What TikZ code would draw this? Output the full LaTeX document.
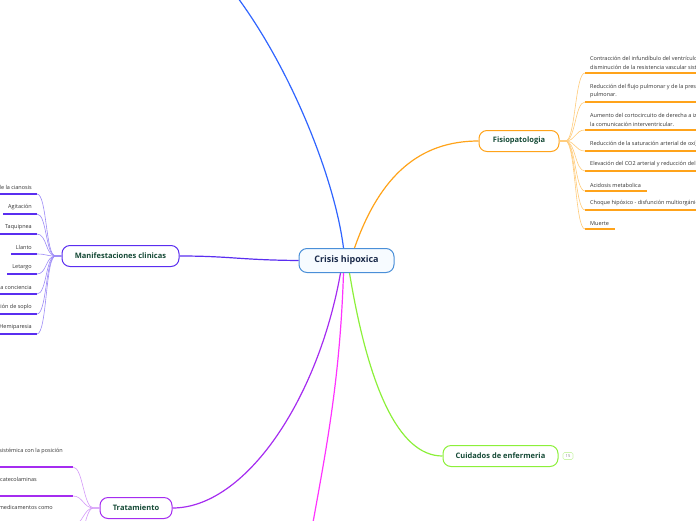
\documentclass[tikz,border=0pt]{standalone}
\usepackage{fontspec}
\setmainfont{Open Sans}
\usetikzlibrary{positioning}

\definecolor{centreline}{HTML}{4A8FD8}
\definecolor{centrefill}{HTML}{F7FBFF}
\definecolor{centretext}{HTML}{1B2B4B}
\definecolor{topictext}{HTML}{154A36}
\definecolor{leaftext}{HTML}{333333}
\definecolor{bluebranch}{HTML}{2F64FF}
\definecolor{fisiocol}{HTML}{FFA31A}
\definecolor{fisiolight}{HTML}{FFCB7A}
\definecolor{manifcol}{HTML}{5A2EF0}
\definecolor{maniflight}{HTML}{9C8AF6}
\definecolor{tratcol}{HTML}{A52CF0}
\definecolor{tratlight}{HTML}{D49AF8}
\definecolor{cuidcol}{HTML}{8CF03A}
\definecolor{cuidlight}{HTML}{CDF5AE}
\definecolor{magentabranch}{HTML}{FF33FF}

\tikzset{
  topic/.style={draw, rounded corners=8pt, line width=1pt, fill=white,
    minimum height=21pt, inner xsep=8pt, text=topictext,
    font=\fontsize{7.5}{9}\selectfont\bfseries},
  leaf/.style={inner sep=0pt, align=left, text=leaftext,
    font=\fontsize{5.5}{8.5}\selectfont},
  branch/.style={line width=1.2pt},
  twig/.style={line width=0.6pt},
  underline/.style={line width=1.4pt},
  badge/.style={draw=cuidlight, rounded corners=1.5pt, line width=0.6pt,
    text=gray, inner sep=1pt, minimum width=10pt, minimum height=7pt,
    font=\fontsize{4}{4}\selectfont}
}

\begin{document}
\begin{tikzpicture}[x=1pt,y=-1pt]
    \useasboundingbox (0,0) rectangle (696,520);
    \clip (0,0) rectangle (696,520);

    % Topics
    \node[topic, draw=centreline, fill=centrefill, text=centretext,
          minimum width=95pt, minimum height=24pt,
          font=\fontsize{9}{11}\selectfont\bfseries] (crisis) at (346.5,260.5) {Crisis hipoxica};
    \node[topic, draw=fisiocol, minimum width=80pt] (fisio) at (519,141) {Fisiopatologia};
    \node[topic, draw=manifcol, minimum width=117pt] (manif) at (120.5,256) {Manifestaciones clinicas};
    \node[topic, draw=tratcol, minimum width=72pt] (trat) at (136,508) {Tratamiento};
    \node[topic, draw=cuidcol, minimum width=115pt] (cuid) at (500.5,456) {Cuidados de enfermeria};
    \node[badge] (count) at (568,456) {15};

    % Branches off the page
    \coordinate (topend) at (235,-6);
    \coordinate (bottomend) at (312,528);

    % Main branches
    \draw[branch,bluebranch] ([xshift=-3pt]crisis.north) .. controls (335,180) and (292,70) .. (topend);
    \draw[branch,fisiocol] ([xshift=8pt]crisis.north) .. controls (380,175) and (420,141) .. (fisio.west);
    \draw[branch,manifcol] (crisis.west) .. controls (240,260) and (230,256) .. (manif.east);
    \draw[branch,tratcol] ([xshift=-6pt]crisis.south) .. controls (318,400) and (245,508) .. (trat.east);
    \draw[branch,magentabranch] ([xshift=-3pt]crisis.south) .. controls (340,380) and (326,450) .. (bottomend);
    \draw[branch,cuidcol] ([xshift=3pt]crisis.south) .. controls (368,385) and (398,456) .. (cuid.west);

    % Fisiopatologia
    \foreach \y/\txt [count=\i] in {
        73/{Contracción del infundíbulo del ventrículo derecho y\\disminución de la resistencia vascular sistémica.},
        102/{Reducción del flujo pulmonar y de la presión arterial\\pulmonar.},
        130/{Aumento del cortocircuito de derecha a izquierda a través de\\la comunicación interventricular.},
        151/{Reducción de la saturación arterial de oxígeno},
        171/{Elevación del CO2 arterial y reducción del pH},
        191/{Acidosis metabolica},
        210/{Choque hipóxico - disfunción multiorgánica},
        229/{Muerte}} {
        \node[leaf, anchor=south west] (fisio-\i) at (590,\y-3.5) {\txt};
        \coordinate (fisio-u\i) at (585,\y);
        \draw[underline,fisiocol] (fisio-u\i) -- ([xshift=6pt]fisio-\i.east |- fisio-u\i);
        \draw[twig,fisiolight] (fisio.east) -- ++(6,0) .. controls +(10,0) and (575,\y) .. (fisio-u\i);
    }

    % Manifestaciones clinicas
    \foreach \y/\txt [count=\i] in {
        194/{Aumento de la cianosis}, 214/{Agitación}, 234/{Taquipnea},
        254/{Llanto}, 274/{Letargo}, 294/{Pérdida de la conciencia},
        314/{Disminución de soplo}, 334/{Hemiparesia}} {
        \node[leaf, anchor=south east] (manif-\i) at (32,\y-4) {\txt};
        \coordinate (manif-u\i) at (37,\y);
        \draw[underline,manifcol] (manif-u\i) -- ([xshift=-5pt]manif-\i.west |- manif-u\i);
        \draw[twig,maniflight] (manif.west) -- ++(-6,0) .. controls +(-10,0) and (47,\y) .. (manif-u\i);
    }

    % Tratamiento
    \node[leaf, anchor=base east] (trat-1) at (63,452.5) {Aumentar la resistencia vascular sistémica con la posición};
    \node[leaf, anchor=base east] (trat-2) at (37,481.5) {Evitar catecolaminas};
    \node[leaf, anchor=base east] (trat-3) at (53,509.5) {Administrar medicamentos como};
    \foreach \y [count=\i] in {467,496,525,554} {
        \coordinate (trat-u\i) at (73,\y);
        \draw[underline,tratcol] (trat-u\i) -- (-5,\y);
        \draw[twig,tratlight] (trat.west) -- ++(-6,0) .. controls +(-10,0) and (83,\y) .. (trat-u\i);
    }
\end{tikzpicture}
\end{document}
